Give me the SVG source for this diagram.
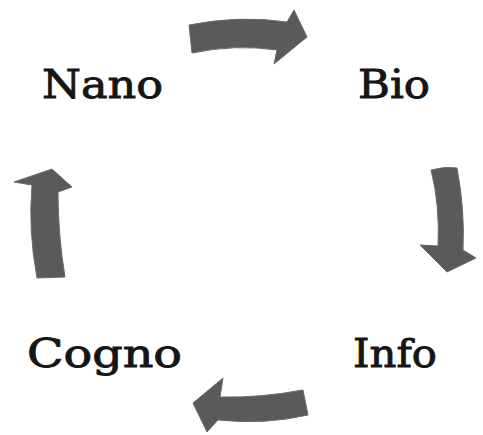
<svg xmlns="http://www.w3.org/2000/svg" width="483" height="435" viewBox="0 0 483 435">
<style>
.lbl{font-family:"DejaVu Serif","Liberation Serif",serif;font-size:40px;fill:#151515;stroke:#151515;stroke-width:0.9;}
.arr{fill:#5a5a5a;stroke:#6a6a6a;stroke-width:1;stroke-linejoin:round;}
</style>
<rect width="483" height="435" fill="#fff"/>
<g id="connectors">
<path id="arrow-nano-bio" class="arr" d="M189,25 Q240,15 287,22 L294,10 L307,37 L274,64 L277,50 Q235,44 192,53 Z"/>
<path id="arrow-bio-info" class="arr" d="M431,170 Q445,166 457,168 Q465,210 463,250 L476,258 L447,272 L420,245 L438,246 Q440,205 431,170 Z"/>
<path id="arrow-info-cogno" class="arr" d="M303,390 Q260,398 220,397 L223,378 L193,403 L207,432 L218,420 Q265,425 308,415 Z"/>
<path id="arrow-cogno-nano" class="arr" d="M37,278 Q28,230 32,185 L14,182 L52,169 L72,187 L58,192 Q58,235 65,277 Z"/>
</g>
<g id="nano"><text class="lbl" x="42" y="98" textLength="121" lengthAdjust="spacingAndGlyphs">Nano</text></g>
<g id="bio"><text class="lbl" x="358" y="98" textLength="72" lengthAdjust="spacingAndGlyphs">Bio</text></g>
<g id="info"><text class="lbl" x="353" y="367" textLength="84" lengthAdjust="spacingAndGlyphs">Info</text></g>
<g id="cogno"><text class="lbl" x="27" y="367" textLength="155" lengthAdjust="spacingAndGlyphs">Cogno</text></g>
</svg>
